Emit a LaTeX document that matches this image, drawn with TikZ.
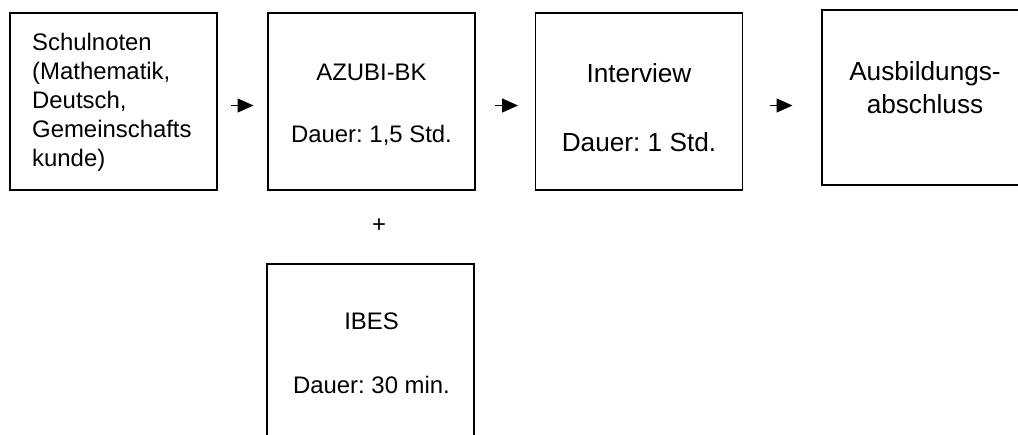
\documentclass[tikz,border=0pt]{standalone}
\usepackage{fontspec}
\setmainfont{Liberation Sans}
\usetikzlibrary{arrows.meta}
\frenchspacing
\begin{document}
\begin{tikzpicture}[x=1pt,y=-1pt,
  box/.style={draw=black,line width=1.4pt,inner sep=0pt,minimum width=207pt,minimum height=177pt},
  txt/.style={inner sep=0pt,font=\fontsize{23.9}{29}\selectfont},
  bigtxt/.style={inner sep=0pt,font=\fontsize{26.2}{32}\selectfont},
  arr/.style={line width=1.4pt,-{Triangle[length=16pt,width=14pt]}}]
\useasboundingbox (0,0) rectangle (1018,434);
\clip (0,0) rectangle (1018,434);
\node[box] (b1) at (113.5,101.5) {};
\node[box] (b2) at (371.5,101.5) {};
\node[box] (b3) at (639,101.5) {};
\node[box,minimum height=175pt] (b4) at (925.5,97.5) {};
\node[box] (b5) at (370.5,352.5) {};
% box 1 text
\node[txt,anchor=base west] (t1a) at (32,50) {Schulnoten};
\node[txt,anchor=base west] (t1b) at (32,79) {(Mathematik,};
\node[txt,anchor=base west] (t1c) at (32,108) {Deutsch,};
\node[txt,anchor=base west] (t1d) at (32,137) {Gemeinschafts};
\node[txt,anchor=base west] (t1e) at (32,166) {kunde)};
% box 2
\node[txt,anchor=base] (t2a) at (371.5,80) {AZUBI-BK};
\node[txt,anchor=base] (t2b) at (371.5,142) {Dauer: 1,5 Std.};
% box 3
\node[bigtxt,anchor=base] (t3a) at (639,82) {Interview};
\node[bigtxt,anchor=base] (t3b) at (639,151) {Dauer: 1 Std.};
% box 4
\node[bigtxt,anchor=base] (t4a) at (925,80) {Ausbildungs-};
\node[bigtxt,anchor=base] (t4b) at (925,113) {abschluss};
% box 5
\node[txt,anchor=base] (t5a) at (371.5,329) {IBES};
\node[txt,anchor=base] (t5b) at (371.5,393) {Dauer: 30 min.};
% plus
\node[txt] (plus) at (379,226) {+};
% arrows
\coordinate (a1s) at (231,105.5); \coordinate (a1e) at (253.5,105.5);
\coordinate (a2s) at (495,105.5); \coordinate (a2e) at (518,105.5);
\coordinate (a3s) at (770,105.5); \coordinate (a3e) at (792.5,105.5);
\draw[arr] (a1s) -- (a1e);
\draw[arr] (a2s) -- (a2e);
\draw[arr] (a3s) -- (a3e);
\end{tikzpicture}
\end{document}
